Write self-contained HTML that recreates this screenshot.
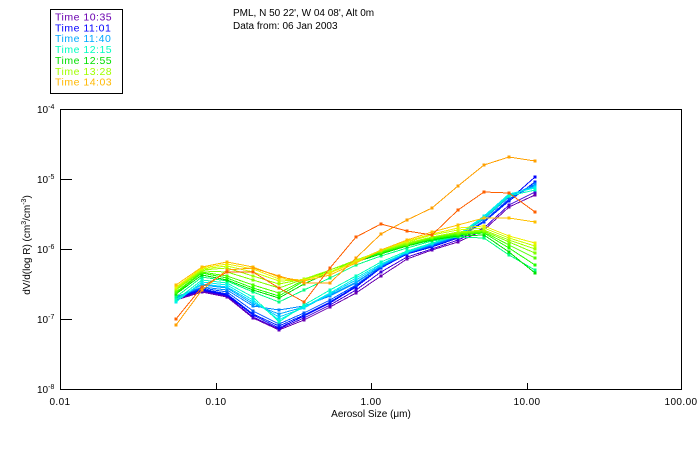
<!DOCTYPE html>
<html>
<head>
<meta charset="utf-8">
<style>
html,body{margin:0;padding:0;background:#fff;}
svg{display:block;}
text{font-family:"Liberation Sans",sans-serif;}
</style>
</head>
<body>
<svg width="700" height="450" viewBox="0 0 700 450" xmlns="http://www.w3.org/2000/svg">
<defs>
<marker id="m1" viewBox="0 0 3 3" refX="1.5" refY="1.5" markerWidth="3" markerHeight="3" markerUnits="userSpaceOnUse"><rect width="3" height="3" fill="#6a00b0"/></marker>
<marker id="m2" viewBox="0 0 3 3" refX="1.5" refY="1.5" markerWidth="3" markerHeight="3" markerUnits="userSpaceOnUse"><rect width="3" height="3" fill="#4000d8"/></marker>
<marker id="m3" viewBox="0 0 3 3" refX="1.5" refY="1.5" markerWidth="3" markerHeight="3" markerUnits="userSpaceOnUse"><rect width="3" height="3" fill="#0000ff"/></marker>
<marker id="m4" viewBox="0 0 3 3" refX="1.5" refY="1.5" markerWidth="3" markerHeight="3" markerUnits="userSpaceOnUse"><rect width="3" height="3" fill="#0020ff"/></marker>
<marker id="m5" viewBox="0 0 3 3" refX="1.5" refY="1.5" markerWidth="3" markerHeight="3" markerUnits="userSpaceOnUse"><rect width="3" height="3" fill="#0050ff"/></marker>
<marker id="m6" viewBox="0 0 3 3" refX="1.5" refY="1.5" markerWidth="3" markerHeight="3" markerUnits="userSpaceOnUse"><rect width="3" height="3" fill="#0088ff"/></marker>
<marker id="m7" viewBox="0 0 3 3" refX="1.5" refY="1.5" markerWidth="3" markerHeight="3" markerUnits="userSpaceOnUse"><rect width="3" height="3" fill="#00a8ff"/></marker>
<marker id="m8" viewBox="0 0 3 3" refX="1.5" refY="1.5" markerWidth="3" markerHeight="3" markerUnits="userSpaceOnUse"><rect width="3" height="3" fill="#00d0ff"/></marker>
<marker id="m9" viewBox="0 0 3 3" refX="1.5" refY="1.5" markerWidth="3" markerHeight="3" markerUnits="userSpaceOnUse"><rect width="3" height="3" fill="#00f0f0"/></marker>
<marker id="m10" viewBox="0 0 3 3" refX="1.5" refY="1.5" markerWidth="3" markerHeight="3" markerUnits="userSpaceOnUse"><rect width="3" height="3" fill="#00ffc0"/></marker>
<marker id="m11" viewBox="0 0 3 3" refX="1.5" refY="1.5" markerWidth="3" markerHeight="3" markerUnits="userSpaceOnUse"><rect width="3" height="3" fill="#00ff80"/></marker>
<marker id="m12" viewBox="0 0 3 3" refX="1.5" refY="1.5" markerWidth="3" markerHeight="3" markerUnits="userSpaceOnUse"><rect width="3" height="3" fill="#00e000"/></marker>
<marker id="m13" viewBox="0 0 3 3" refX="1.5" refY="1.5" markerWidth="3" markerHeight="3" markerUnits="userSpaceOnUse"><rect width="3" height="3" fill="#20ff00"/></marker>
<marker id="m14" viewBox="0 0 3 3" refX="1.5" refY="1.5" markerWidth="3" markerHeight="3" markerUnits="userSpaceOnUse"><rect width="3" height="3" fill="#50ff00"/></marker>
<marker id="m15" viewBox="0 0 3 3" refX="1.5" refY="1.5" markerWidth="3" markerHeight="3" markerUnits="userSpaceOnUse"><rect width="3" height="3" fill="#80ff00"/></marker>
<marker id="m16" viewBox="0 0 3 3" refX="1.5" refY="1.5" markerWidth="3" markerHeight="3" markerUnits="userSpaceOnUse"><rect width="3" height="3" fill="#a0ff00"/></marker>
<marker id="m17" viewBox="0 0 3 3" refX="1.5" refY="1.5" markerWidth="3" markerHeight="3" markerUnits="userSpaceOnUse"><rect width="3" height="3" fill="#c8ff00"/></marker>
<marker id="m18" viewBox="0 0 3 3" refX="1.5" refY="1.5" markerWidth="3" markerHeight="3" markerUnits="userSpaceOnUse"><rect width="3" height="3" fill="#f0f000"/></marker>
<marker id="m19" viewBox="0 0 3 3" refX="1.5" refY="1.5" markerWidth="3" markerHeight="3" markerUnits="userSpaceOnUse"><rect width="3" height="3" fill="#ffc000"/></marker>
<marker id="m20" viewBox="0 0 3 3" refX="1.5" refY="1.5" markerWidth="3" markerHeight="3" markerUnits="userSpaceOnUse"><rect width="3" height="3" fill="#ffa000"/></marker>
<marker id="m21" viewBox="0 0 3 3" refX="1.5" refY="1.5" markerWidth="3" markerHeight="3" markerUnits="userSpaceOnUse"><rect width="3" height="3" fill="#ff6000"/></marker>
</defs>

<!-- Legend -->
<rect x="50.5" y="9.5" width="72" height="84" fill="none" stroke="#000" stroke-width="1" shape-rendering="crispEdges"/>
<g font-size="10.5" letter-spacing="0.5">
<text x="55" y="20.5" fill="#6a00b0">Time 10:35</text>
<text x="55" y="31.4" fill="#0000ff">Time 11:01</text>
<text x="55" y="42.2" fill="#00a8ff">Time 11:40</text>
<text x="55" y="53" fill="#00ffc0">Time 12:15</text>
<text x="55" y="64" fill="#00e000">Time 12:55</text>
<text x="55" y="74.8" fill="#a0ff00">Time 13:28</text>
<text x="55" y="85.7" fill="#ffb800">Time 14:03</text>
</g>

<!-- Title -->
<text x="233" y="16" font-size="10" fill="#000">PML, N 50 22', W 04 08', Alt 0m</text>
<text x="233" y="29" font-size="10" fill="#000">Data from: 06 Jan 2003</text>

<!-- Axes box -->
<g shape-rendering="crispEdges" stroke="#000" stroke-width="1" fill="none">
<rect x="60.5" y="109.5" width="621" height="280"/>
<line x1="60" y1="179.5" x2="72" y2="179.5"/>
<line x1="60" y1="249.5" x2="72" y2="249.5"/>
<line x1="60" y1="319.5" x2="72" y2="319.5"/>
<line x1="216.5" y1="383" x2="216.5" y2="389"/>
<line x1="371.5" y1="383" x2="371.5" y2="389"/>
<line x1="527.5" y1="383" x2="527.5" y2="389"/>
</g>

<!-- Y tick labels -->
<g font-size="10" fill="#000">
<text x="37" y="113">10<tspan dy="-4" font-size="7">-4</tspan></text>
<text x="37" y="183">10<tspan dy="-4" font-size="7">-5</tspan></text>
<text x="37" y="253">10<tspan dy="-4" font-size="7">-6</tspan></text>
<text x="37" y="323">10<tspan dy="-4" font-size="7">-7</tspan></text>
<text x="37" y="393">10<tspan dy="-4" font-size="7">-8</tspan></text>
</g>

<!-- X tick labels -->
<g font-size="10" fill="#000" text-anchor="middle" letter-spacing="0.4">
<text x="60" y="405">0.01</text>
<text x="216" y="405">0.10</text>
<text x="371" y="405">1.00</text>
<text x="527" y="405">10.00</text>
<text x="681" y="405">100.00</text>
</g>

<!-- Axis titles -->
<text x="371" y="417" font-size="10" text-anchor="middle" fill="#000">Aerosol Size (μm)</text>
<text transform="translate(30,245) rotate(-90)" font-size="10" text-anchor="middle" fill="#000">dV/d(log R) (cm<tspan dy="-4" font-size="7">3</tspan><tspan dy="4">/cm</tspan><tspan dy="-4" font-size="7">-3</tspan><tspan dy="4">)</tspan></text>

<!-- Data series -->
<g fill="none" stroke-width="1" shape-rendering="crispEdges">
<polyline stroke="#6a00b0" marker-start="url(#m1)" marker-mid="url(#m1)" marker-end="url(#m1)" points="176,300 202,292 227,297 253,318 279,330 304,320 330,307 356,293 381,276 407,259 432,250 458,242 484,230 509,207 535,195"/>
<polyline stroke="#4000d8" marker-start="url(#m2)" marker-mid="url(#m2)" marker-end="url(#m2)" points="176,299 202,291 227,296 253,317 279,329 304,318 330,305 356,290 381,272 407,257 432,249 458,240 484,228 509,205 535,192"/>
<polyline stroke="#0000ff" marker-start="url(#m3)" marker-mid="url(#m3)" marker-end="url(#m3)" points="176,298 202,290 227,295 253,315 279,328 304,316 330,303 356,287 381,268 407,254 432,247 458,238 484,222 509,200 535,177"/>
<polyline stroke="#0020ff" marker-start="url(#m4)" marker-mid="url(#m4)" marker-end="url(#m4)" points="176,298 202,289 227,294 253,314 279,326 304,315 330,302 356,286 381,268 407,254 432,246 458,238 484,222 509,201 535,182"/>
<polyline stroke="#0050ff" marker-start="url(#m5)" marker-mid="url(#m5)" marker-end="url(#m5)" points="176,297 202,288 227,292 253,311 279,324 304,313 330,300 356,285 381,267 407,253 432,246 458,237 484,221 509,199 535,185"/>
<polyline stroke="#0088ff" marker-start="url(#m6)" marker-mid="url(#m6)" marker-end="url(#m6)" points="176,297 202,287 227,290 253,306 279,310 304,306 330,296 356,283 381,266 407,253 432,245 458,236 484,219 509,197 535,184"/>
<polyline stroke="#00a8ff" marker-start="url(#m7)" marker-mid="url(#m7)" marker-end="url(#m7)" points="176,298 202,285 227,288 253,304 279,314 304,307 330,295 356,282 381,266 407,253 432,244 458,236 484,218 509,196 535,186"/>
<polyline stroke="#00d0ff" marker-start="url(#m8)" marker-mid="url(#m8)" marker-end="url(#m8)" points="176,300 202,284 227,287 253,302 279,317 304,308 330,294 356,280 381,265 407,252 432,244 458,235 484,217 509,195 535,187"/>
<polyline stroke="#00f0f0" marker-start="url(#m9)" marker-mid="url(#m9)" marker-end="url(#m9)" points="176,302 202,282 227,285 253,300 279,320 304,307 330,293 356,278 381,264 407,252 432,243 458,235 484,216 509,194 535,188"/>
<polyline stroke="#00ffc0" marker-start="url(#m10)" marker-mid="url(#m10)" marker-end="url(#m10)" points="176,300 202,280 227,283 253,297 279,322 304,305 330,290 356,276 381,262 407,251 432,243 458,235 484,218 509,196 535,190"/>
<polyline stroke="#00ff80" marker-start="url(#m11)" marker-mid="url(#m11)" marker-end="url(#m11)" points="176,297 202,277 227,281 253,292 279,302 304,290 330,278 356,265 381,256 407,248 432,241 458,237 484,238 509,255 535,270"/>
<polyline stroke="#00e000" marker-start="url(#m12)" marker-mid="url(#m12)" marker-end="url(#m12)" points="176,294 202,275 227,280 253,290 279,298 304,284 330,272 356,262 381,254 407,246 432,240 458,236 484,235 509,252 535,273"/>
<polyline stroke="#20ff00" marker-start="url(#m13)" marker-mid="url(#m13)" marker-end="url(#m13)" points="176,293 202,273 227,278 253,288 279,296 304,281 330,270 356,261 381,253 407,245 432,239 458,235 484,233 509,248 535,265"/>
<polyline stroke="#50ff00" marker-start="url(#m14)" marker-mid="url(#m14)" marker-end="url(#m14)" points="176,292 202,272 227,276 253,285 279,293 304,280 330,270 356,260 381,252 407,245 432,238 458,234 484,232 509,245 535,258"/>
<polyline stroke="#80ff00" marker-start="url(#m15)" marker-mid="url(#m15)" marker-end="url(#m15)" points="176,290 202,271 227,272 253,280 279,288 304,279 330,270 356,260 381,251 407,244 432,237 458,233 484,231 509,242 535,253"/>
<polyline stroke="#a0ff00" marker-start="url(#m16)" marker-mid="url(#m16)" marker-end="url(#m16)" points="176,289 202,270 227,268 253,276 279,284 304,279 330,270 356,260 381,251 407,243 432,237 458,232 484,230 509,240 535,249"/>
<polyline stroke="#c8ff00" marker-start="url(#m17)" marker-mid="url(#m17)" marker-end="url(#m17)" points="176,288 202,269 227,266 253,272 279,281 304,280 330,272 356,261 381,250 407,242 432,235 458,230 484,228 509,238 535,246"/>
<polyline stroke="#f0f000" marker-start="url(#m18)" marker-mid="url(#m18)" marker-end="url(#m18)" points="176,287 202,268 227,264 253,269 279,279 304,280 330,273 356,262 381,250 407,241 432,234 458,228 484,226 509,236 535,243"/>
<polyline stroke="#ffc000" marker-start="url(#m19)" marker-mid="url(#m19)" marker-end="url(#m19)" points="176,285 202,267 227,262 253,267 279,277 304,281 330,275 356,263 381,250 407,240 432,232 458,225 484,218 509,218 535,222"/>
<polyline stroke="#ffa000" marker-start="url(#m20)" marker-mid="url(#m20)" marker-end="url(#m20)" points="176,325 202,290 227,270 253,268 279,276 304,283 330,283 356,258 381,234 407,220 432,208 458,186 484,165 509,157 535,161"/>
<polyline stroke="#ff6000" marker-start="url(#m21)" marker-mid="url(#m21)" marker-end="url(#m21)" points="176,319 202,287 227,272 253,272 279,288 304,302 330,268 356,237 381,224 407,231 432,235 458,210 484,192 509,193 535,212"/>
</g>
</svg>
</body>
</html>
